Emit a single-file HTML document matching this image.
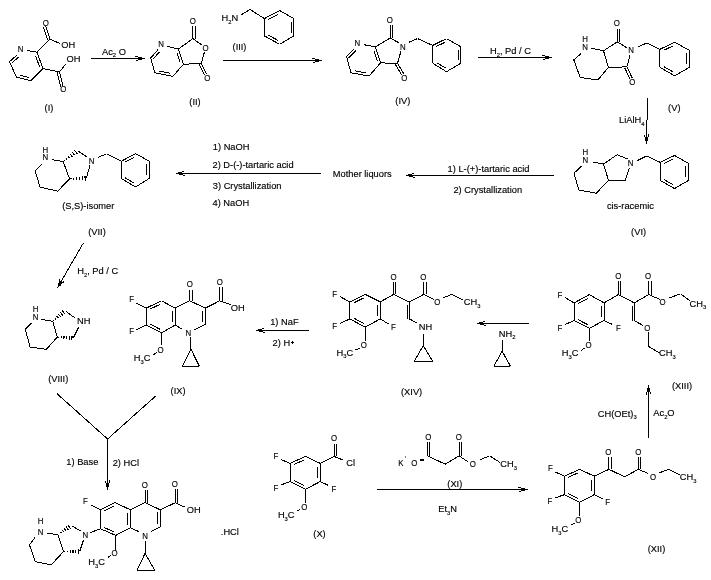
<!DOCTYPE html>
<html><head><meta charset="utf-8"><style>
html,body{margin:0;padding:0;background:#fff;}
svg{display:block;will-change:transform;}
text{font-family:"Liberation Sans",sans-serif;fill:#000;stroke:#000;stroke-width:0.15;}
line{stroke:#000;stroke-linecap:butt;shape-rendering:crispEdges;}
rect,path{fill:#000;shape-rendering:crispEdges;}

</style></head><body>
<svg width="711" height="580" viewBox="0 0 711 580">
<rect width="711" height="580" style="fill:#fff"/>
<text transform="translate(20.7 51.84) scale(0.82 1.04)" font-size="9.6" text-anchor="middle"><tspan>N</tspan></text>
<line x1="26.7" y1="50.5" x2="37" y2="52.2" stroke-width="1.0"/>
<line x1="37" y1="52.2" x2="50" y2="39.3" stroke-width="1.0"/>
<line x1="50" y1="39.3" x2="45.7" y2="26.4" stroke-width="1.0"/>
<line x1="47.72" y1="40.06" x2="43.42" y2="27.16" stroke-width="1.0"/>
<text transform="translate(45.7 25.94) scale(0.82 1.04)" font-size="9.6" text-anchor="middle"><tspan>O</tspan></text>
<line x1="50" y1="39.3" x2="60.3" y2="43.6" stroke-width="1.0"/>
<text transform="translate(61.2 48.34) scale(0.97 1.0)" font-size="9.6" text-anchor="start"><tspan>OH</tspan></text>
<line x1="37" y1="52.2" x2="43" y2="68.6" stroke-width="1.0"/>
<line x1="35.64" y1="56.05" x2="39.48" y2="66.54" stroke-width="1.0"/>
<line x1="43" y1="68.6" x2="31" y2="80.7" stroke-width="1.0"/>
<line x1="31" y1="80.7" x2="16.4" y2="77.2" stroke-width="1.0"/>
<line x1="28.98" y1="77.54" x2="19.63" y2="75.3" stroke-width="1.0"/>
<line x1="16.4" y1="77.2" x2="9.5" y2="61.7" stroke-width="1.0"/>
<line x1="9.5" y1="61.7" x2="17.2" y2="54.8" stroke-width="1.0"/>
<line x1="11.62" y1="63.29" x2="18.55" y2="57.08" stroke-width="1.0"/>
<line x1="43" y1="68.6" x2="59.5" y2="72" stroke-width="1.0"/>
<line x1="59.5" y1="72" x2="65.5" y2="64.3" stroke-width="1.0"/>
<text transform="translate(66.4 62.04) scale(0.97 1.0)" font-size="9.6" text-anchor="start"><tspan>OH</tspan></text>
<line x1="59.5" y1="72" x2="63" y2="85.9" stroke-width="1.0"/>
<line x1="57.17" y1="72.59" x2="60.67" y2="86.49" stroke-width="1.0"/>
<text transform="translate(63.4 91.84) scale(0.82 1.04)" font-size="9.6" text-anchor="middle"><tspan>O</tspan></text>
<text transform="translate(49 110.54) scale(0.97 1.0)" font-size="9.6" text-anchor="middle"><tspan>(I)</tspan></text>
<rect x="91" y="58" width="54" height="1"/>
<rect x="138" y="57" width="4" height="3"/>
<rect x="135" y="56" width="3" height="1"/>
<rect x="136" y="60" width="2" height="1"/>
<text transform="translate(102 54.74) scale(0.97 1.0)" font-size="9.6" text-anchor="start"><tspan>Ac</tspan><tspan dy="2.6" font-size="5.95">2</tspan><tspan dy="-2.6"> O</tspan></text>
<text transform="translate(161.2 47.34) scale(0.82 1.04)" font-size="9.6" text-anchor="middle"><tspan>N</tspan></text>
<line x1="167.5" y1="46.4" x2="178.5" y2="49" stroke-width="1.0"/>
<line x1="178.5" y1="49" x2="192.9" y2="38.6" stroke-width="1.0"/>
<line x1="192.9" y1="38.6" x2="192.9" y2="26.4" stroke-width="1.0"/>
<line x1="195.3" y1="38.6" x2="195.3" y2="26.4" stroke-width="1.0"/>
<text transform="translate(192.9 24.04) scale(0.82 1.04)" font-size="9.6" text-anchor="middle"><tspan>O</tspan></text>
<line x1="192.9" y1="38.6" x2="202.4" y2="45.4" stroke-width="1.0"/>
<text transform="translate(205.5 50.54) scale(0.82 1.04)" font-size="9.6" text-anchor="middle"><tspan>O</tspan></text>
<line x1="204.5" y1="51.7" x2="201.3" y2="63.3" stroke-width="1.0"/>
<line x1="201.3" y1="63.3" x2="206.6" y2="73.8" stroke-width="1.0"/>
<line x1="199.16" y1="64.38" x2="204.46" y2="74.88" stroke-width="1.0"/>
<text transform="translate(207.2 80.64) scale(0.82 1.04)" font-size="9.6" text-anchor="middle"><tspan>O</tspan></text>
<line x1="201.3" y1="63.3" x2="183.4" y2="64.3" stroke-width="1.0"/>
<line x1="183.4" y1="64.3" x2="178.5" y2="49" stroke-width="1.0"/>
<line x1="180.04" y1="62.34" x2="176.91" y2="52.55" stroke-width="1.0"/>
<line x1="183.4" y1="64.3" x2="172.8" y2="76.4" stroke-width="1.0"/>
<line x1="172.8" y1="76.4" x2="154.9" y2="72.8" stroke-width="1.0"/>
<line x1="170.09" y1="73.2" x2="158.63" y2="70.9" stroke-width="1.0"/>
<line x1="154.9" y1="72.8" x2="150.7" y2="58" stroke-width="1.0"/>
<line x1="150.7" y1="58" x2="158" y2="49.6" stroke-width="1.0"/>
<line x1="153.03" y1="59.29" x2="159.6" y2="51.73" stroke-width="1.0"/>
<text transform="translate(195 104.54) scale(0.97 1.0)" font-size="9.6" text-anchor="middle"><tspan>(II)</tspan></text>
<text transform="translate(221.6 20.94) scale(0.97 1.0)" font-size="9.6" text-anchor="start"><tspan>H</tspan><tspan dy="2.6" font-size="5.95">2</tspan><tspan dy="-2.6">N</tspan></text>
<line x1="241.2" y1="14.8" x2="250" y2="9.5" stroke-width="1.0"/>
<line x1="250" y1="9.5" x2="264.4" y2="18.6" stroke-width="1.0"/>
<line x1="264.4" y1="18.6" x2="279.6" y2="10.5" stroke-width="1.0"/>
<line x1="279.6" y1="10.5" x2="293.8" y2="18.6" stroke-width="1.0"/>
<line x1="293.8" y1="18.6" x2="293.8" y2="35.9" stroke-width="1.0"/>
<line x1="293.8" y1="35.9" x2="279.6" y2="44.3" stroke-width="1.0"/>
<line x1="279.6" y1="44.3" x2="264.4" y2="35.9" stroke-width="1.0"/>
<line x1="264.4" y1="35.9" x2="264.4" y2="18.6" stroke-width="1.0"/>
<line x1="268.36" y1="19.44" x2="278.09" y2="14.25" stroke-width="1.0"/>
<line x1="291.2" y1="21.71" x2="291.2" y2="32.79" stroke-width="1.0"/>
<line x1="278.12" y1="40.51" x2="268.39" y2="35.14" stroke-width="1.0"/>
<text transform="translate(239.5 49.84) scale(0.97 1.0)" font-size="9.6" text-anchor="middle"><tspan>(III)</tspan></text>
<rect x="223" y="60" width="99" height="1"/>
<rect x="315" y="59" width="4" height="3"/>
<rect x="312" y="58" width="3" height="1"/>
<rect x="313" y="62" width="2" height="1"/>
<text transform="translate(357.4 45.84) scale(0.82 1.04)" font-size="9.6" text-anchor="middle"><tspan>N</tspan></text>
<line x1="363.8" y1="44.7" x2="375.4" y2="46.8" stroke-width="1.0"/>
<line x1="375.4" y1="46.8" x2="390.1" y2="38" stroke-width="1.0"/>
<line x1="390.1" y1="38" x2="390.1" y2="25.3" stroke-width="1.0"/>
<line x1="392.5" y1="38" x2="392.5" y2="25.3" stroke-width="1.0"/>
<text transform="translate(389.8 23.04) scale(0.82 1.04)" font-size="9.6" text-anchor="middle"><tspan>O</tspan></text>
<line x1="390.1" y1="38" x2="399.6" y2="43.2" stroke-width="1.0"/>
<text transform="translate(402.8 49.84) scale(0.82 1.04)" font-size="9.6" text-anchor="middle"><tspan>N</tspan></text>
<line x1="401" y1="51" x2="397.5" y2="63.3" stroke-width="1.0"/>
<line x1="397.5" y1="63.3" x2="403.8" y2="73.8" stroke-width="1.0"/>
<line x1="395.44" y1="64.53" x2="401.74" y2="75.03" stroke-width="1.0"/>
<text transform="translate(404.3 80.54) scale(0.82 1.04)" font-size="9.6" text-anchor="middle"><tspan>O</tspan></text>
<line x1="397.5" y1="63.3" x2="380.6" y2="62.9" stroke-width="1.0"/>
<line x1="380.6" y1="62.9" x2="375.4" y2="46.8" stroke-width="1.0"/>
<line x1="377.19" y1="60.8" x2="373.86" y2="50.5" stroke-width="1.0"/>
<line x1="380.6" y1="62.9" x2="369" y2="76" stroke-width="1.0"/>
<line x1="369" y1="76" x2="351" y2="72.8" stroke-width="1.0"/>
<line x1="366.22" y1="72.86" x2="354.7" y2="70.82" stroke-width="1.0"/>
<line x1="351" y1="72.8" x2="346.5" y2="56.5" stroke-width="1.0"/>
<line x1="346.5" y1="56.5" x2="354.3" y2="48.5" stroke-width="1.0"/>
<line x1="348.75" y1="57.92" x2="355.77" y2="50.72" stroke-width="1.0"/>
<line x1="409" y1="42.2" x2="417.5" y2="38.6" stroke-width="1.0"/>
<line x1="417.5" y1="38.6" x2="432.7" y2="45.4" stroke-width="1.0"/>
<line x1="432.7" y1="45.4" x2="446.5" y2="38.6" stroke-width="1.0"/>
<line x1="446.5" y1="38.6" x2="460.8" y2="46.8" stroke-width="1.0"/>
<line x1="460.8" y1="46.8" x2="460.8" y2="63.3" stroke-width="1.0"/>
<line x1="460.8" y1="63.3" x2="446.5" y2="71.7" stroke-width="1.0"/>
<line x1="446.5" y1="71.7" x2="432.7" y2="63.3" stroke-width="1.0"/>
<line x1="432.7" y1="63.3" x2="432.7" y2="45.4" stroke-width="1.0"/>
<line x1="436.33" y1="46.51" x2="445.17" y2="42.16" stroke-width="1.0"/>
<line x1="458.2" y1="49.77" x2="458.2" y2="60.33" stroke-width="1.0"/>
<line x1="445.37" y1="67.97" x2="436.54" y2="62.59" stroke-width="1.0"/>
<text transform="translate(402.8 104.34) scale(0.97 1.0)" font-size="9.6" text-anchor="middle"><tspan>(IV)</tspan></text>
<rect x="478" y="57" width="74" height="1"/>
<rect x="545" y="56" width="4" height="3"/>
<rect x="542" y="55" width="3" height="1"/>
<rect x="543" y="59" width="2" height="1"/>
<text transform="translate(490 54.24) scale(0.97 1.0)" font-size="9.6" text-anchor="start"><tspan>H</tspan><tspan dy="2.6" font-size="5.95">2</tspan><tspan dy="-2.6">, Pd / C</tspan></text>
<text transform="translate(585 41.74) scale(0.82 1.04)" font-size="9.6" text-anchor="middle"><tspan>H</tspan></text>
<text transform="translate(585 49.54) scale(0.82 1.04)" font-size="9.6" text-anchor="middle"><tspan>N</tspan></text>
<line x1="591.4" y1="48.2" x2="603.5" y2="50.8" stroke-width="1.0"/>
<line x1="603.5" y1="50.8" x2="617.3" y2="41.8" stroke-width="1.0"/>
<line x1="617.3" y1="41.8" x2="617.3" y2="28.7" stroke-width="1.0"/>
<line x1="619.7" y1="41.8" x2="619.7" y2="28.7" stroke-width="1.0"/>
<text transform="translate(616.8 26.24) scale(0.82 1.04)" font-size="9.6" text-anchor="middle"><tspan>O</tspan></text>
<line x1="617.3" y1="41.8" x2="627.5" y2="48.2" stroke-width="1.0"/>
<text transform="translate(631.1 53.34) scale(0.82 1.04)" font-size="9.6" text-anchor="middle"><tspan>N</tspan></text>
<line x1="630" y1="55" x2="626.9" y2="66.9" stroke-width="1.0"/>
<line x1="626.9" y1="66.9" x2="632.2" y2="77.9" stroke-width="1.0"/>
<line x1="624.74" y1="67.94" x2="630.04" y2="78.94" stroke-width="1.0"/>
<text transform="translate(632.4 84.84) scale(0.82 1.04)" font-size="9.6" text-anchor="middle"><tspan>O</tspan></text>
<line x1="626.9" y1="66.9" x2="608.4" y2="67.3" stroke-width="1.0"/>
<line x1="608.4" y1="67.3" x2="603.5" y2="50.8" stroke-width="1.0"/>
<line x1="608.4" y1="67.3" x2="597.8" y2="80" stroke-width="1.0"/>
<line x1="597.8" y1="80" x2="580.2" y2="77.5" stroke-width="1.0"/>
<line x1="580.2" y1="77.5" x2="573.8" y2="59.9" stroke-width="1.0"/>
<line x1="573.8" y1="59.9" x2="581.2" y2="53.5" stroke-width="1.0"/>
<line x1="637.5" y1="47.2" x2="647" y2="42.9" stroke-width="1.0"/>
<line x1="647" y1="42.9" x2="659.8" y2="49.3" stroke-width="1.0"/>
<line x1="659.8" y1="49.3" x2="674.6" y2="42.3" stroke-width="1.0"/>
<line x1="674.6" y1="42.3" x2="689.5" y2="50.3" stroke-width="1.0"/>
<line x1="689.5" y1="50.3" x2="689.5" y2="67.3" stroke-width="1.0"/>
<line x1="689.5" y1="67.3" x2="674.6" y2="75.8" stroke-width="1.0"/>
<line x1="674.6" y1="75.8" x2="659.8" y2="67.3" stroke-width="1.0"/>
<line x1="659.8" y1="67.3" x2="659.8" y2="49.3" stroke-width="1.0"/>
<line x1="663.58" y1="50.39" x2="673.05" y2="45.91" stroke-width="1.0"/>
<line x1="686.9" y1="53.36" x2="686.9" y2="64.24" stroke-width="1.0"/>
<line x1="673.23" y1="72.02" x2="663.76" y2="66.58" stroke-width="1.0"/>
<text transform="translate(674.3 111.04) scale(0.97 1.0)" font-size="9.6" text-anchor="middle"><tspan>(V)</tspan></text>
<text transform="translate(619 123.04) scale(0.97 1.0)" font-size="9.6" text-anchor="start"><tspan>LiAlH</tspan><tspan dy="2.6" font-size="5.95">4</tspan></text>
<rect x="647" y="98" width="1" height="22"/>
<rect x="646" y="120" width="1" height="24"/>
<rect x="645" y="137" width="3" height="4"/>
<rect x="644" y="135" width="1" height="2"/>
<rect x="648" y="134" width="1" height="3"/>
<text transform="translate(585.3 155.24) scale(0.82 1.04)" font-size="9.6" text-anchor="middle"><tspan>H</tspan></text>
<text transform="translate(585.3 163.04) scale(0.82 1.04)" font-size="9.6" text-anchor="middle"><tspan>N</tspan></text>
<line x1="592.6" y1="161.9" x2="603.4" y2="164.1" stroke-width="1.0"/>
<line x1="603.4" y1="164.1" x2="617.2" y2="154.7" stroke-width="1.0"/>
<line x1="617.2" y1="154.7" x2="627.6" y2="159" stroke-width="1.0"/>
<text transform="translate(630.7 166.34) scale(0.82 1.04)" font-size="9.6" text-anchor="middle"><tspan>N</tspan></text>
<line x1="629.3" y1="168.4" x2="625" y2="180.5" stroke-width="1.0"/>
<line x1="625" y1="180.5" x2="608.6" y2="180.5" stroke-width="1.0"/>
<line x1="608.6" y1="180.5" x2="603.4" y2="164.1" stroke-width="1.0"/>
<line x1="608.6" y1="180.5" x2="596.2" y2="193.2" stroke-width="1.0"/>
<line x1="596.2" y1="193.2" x2="578.8" y2="190" stroke-width="1.0"/>
<line x1="578.8" y1="190" x2="574" y2="173.2" stroke-width="1.0"/>
<line x1="574" y1="173.2" x2="581.7" y2="166" stroke-width="1.0"/>
<line x1="637.1" y1="160.7" x2="646.6" y2="155.9" stroke-width="1.0"/>
<line x1="646.6" y1="155.9" x2="660.3" y2="162.4" stroke-width="1.0"/>
<line x1="660.3" y1="162.4" x2="674.5" y2="155.5" stroke-width="1.0"/>
<line x1="674.5" y1="155.5" x2="688.3" y2="163.3" stroke-width="1.0"/>
<line x1="688.3" y1="163.3" x2="688.3" y2="180.5" stroke-width="1.0"/>
<line x1="688.3" y1="180.5" x2="674.5" y2="188.6" stroke-width="1.0"/>
<line x1="674.5" y1="188.6" x2="660.3" y2="180.5" stroke-width="1.0"/>
<line x1="660.3" y1="180.5" x2="660.3" y2="162.4" stroke-width="1.0"/>
<line x1="663.99" y1="163.5" x2="673.08" y2="159.08" stroke-width="1.0"/>
<line x1="685.7" y1="166.4" x2="685.7" y2="177.4" stroke-width="1.0"/>
<line x1="673.23" y1="184.88" x2="664.14" y2="179.7" stroke-width="1.0"/>
<text transform="translate(606.9 208.94) scale(0.97 1.0)" font-size="9.6" text-anchor="start"><tspan>cis-racemic</tspan></text>
<text transform="translate(638.6 235.24) scale(0.97 1.0)" font-size="9.6" text-anchor="middle"><tspan>(VI)</tspan></text>
<rect x="406" y="175" width="148" height="1"/>
<rect x="408" y="174" width="4" height="1"/>
<rect x="409" y="176" width="4" height="1"/>
<rect x="408" y="175" width="5" height="1"/>
<rect x="412" y="173" width="2" height="1"/>
<rect x="413" y="177" width="2" height="1"/>
<text transform="translate(447.6 171.54) scale(0.97 1.0)" font-size="9.6" text-anchor="start"><tspan>1) L-(+)-tartaric acid</tspan></text>
<text transform="translate(453.4 192.84) scale(0.97 1.0)" font-size="9.6" text-anchor="start"><tspan>2) Crystallization</tspan></text>
<text transform="translate(332.8 177.24) scale(0.97 1.0)" font-size="9.6" text-anchor="start"><tspan>Mother liquors</tspan></text>
<rect x="176" y="173" width="145" height="1"/>
<rect x="178" y="172" width="4" height="1"/>
<rect x="179" y="174" width="4" height="1"/>
<rect x="178" y="173" width="5" height="1"/>
<rect x="182" y="171" width="2" height="1"/>
<rect x="183" y="175" width="2" height="1"/>
<text transform="translate(212.8 149.74) scale(0.97 1.0)" font-size="9.6" text-anchor="start"><tspan>1) NaOH</tspan></text>
<text transform="translate(212.5 167.74) scale(0.97 1.0)" font-size="9.6" text-anchor="start"><tspan>2) D-(-)-tartaric acid</tspan></text>
<text transform="translate(212.8 188.64) scale(0.97 1.0)" font-size="9.6" text-anchor="start"><tspan>3) Crystallization</tspan></text>
<text transform="translate(212.5 206.24) scale(0.97 1.0)" font-size="9.6" text-anchor="start"><tspan>4) NaOH</tspan></text>
<text transform="translate(45.3 153.04) scale(0.82 1.04)" font-size="9.6" text-anchor="middle"><tspan>H</tspan></text>
<text transform="translate(45.3 160.44) scale(0.82 1.04)" font-size="9.6" text-anchor="middle"><tspan>N</tspan></text>
<line x1="51.6" y1="159.5" x2="63.2" y2="161.6" stroke-width="1.0"/>
<line x1="64.05" y1="160.34" x2="64.65" y2="161.11" stroke-width="1.1"/>
<line x1="66.13" y1="158.29" x2="67.17" y2="159.66" stroke-width="1.1"/>
<line x1="68.2" y1="156.24" x2="69.7" y2="158.21" stroke-width="1.1"/>
<line x1="70.27" y1="154.19" x2="72.23" y2="156.76" stroke-width="1.1"/>
<line x1="72.35" y1="152.14" x2="74.75" y2="155.31" stroke-width="1.1"/>
<line x1="74.42" y1="150.09" x2="77.28" y2="153.86" stroke-width="1.1"/>
<line x1="78" y1="151.1" x2="87.5" y2="157.4" stroke-width="1.0"/>
<text transform="translate(91.7 163.64) scale(0.82 1.04)" font-size="9.6" text-anchor="middle"><tspan>N</tspan></text>
<line x1="90" y1="165" x2="86.5" y2="178.1" stroke-width="1.0"/>
<line x1="70.98" y1="178.44" x2="71.03" y2="179.41" stroke-width="1.1"/>
<line x1="73.78" y1="177.91" x2="73.87" y2="179.64" stroke-width="1.1"/>
<line x1="76.58" y1="177.39" x2="76.71" y2="179.86" stroke-width="1.1"/>
<line x1="79.37" y1="176.86" x2="79.54" y2="180.09" stroke-width="1.1"/>
<line x1="82.17" y1="176.34" x2="82.38" y2="180.31" stroke-width="1.1"/>
<line x1="84.97" y1="175.82" x2="85.22" y2="180.53" stroke-width="1.1"/>
<line x1="63.2" y1="161.6" x2="69.6" y2="179" stroke-width="1.0"/>
<line x1="69.6" y1="179" x2="57.6" y2="191.2" stroke-width="1.0"/>
<line x1="57.6" y1="191.2" x2="40" y2="187" stroke-width="1.0"/>
<line x1="40" y1="187" x2="35.2" y2="171.1" stroke-width="1.0"/>
<line x1="35.2" y1="171.1" x2="42.2" y2="163.8" stroke-width="1.0"/>
<line x1="98" y1="157.4" x2="106.5" y2="153.8" stroke-width="1.0"/>
<line x1="106.5" y1="153.8" x2="121.3" y2="161.2" stroke-width="1.0"/>
<line x1="121.3" y1="161.2" x2="135.6" y2="153.6" stroke-width="1.0"/>
<line x1="135.6" y1="153.6" x2="149.1" y2="161.2" stroke-width="1.0"/>
<line x1="149.1" y1="161.2" x2="149.1" y2="178.5" stroke-width="1.0"/>
<line x1="149.1" y1="178.5" x2="135.6" y2="187" stroke-width="1.0"/>
<line x1="135.6" y1="187" x2="121.3" y2="178.5" stroke-width="1.0"/>
<line x1="121.3" y1="178.5" x2="121.3" y2="161.2" stroke-width="1.0"/>
<line x1="125.09" y1="162.13" x2="134.25" y2="157.26" stroke-width="1.0"/>
<line x1="146.5" y1="164.31" x2="146.5" y2="175.39" stroke-width="1.0"/>
<line x1="134.35" y1="183.24" x2="125.2" y2="177.8" stroke-width="1.0"/>
<text transform="translate(62.2 208.54) scale(0.97 1.0)" font-size="9.6" text-anchor="start"><tspan>(S,S)-isomer</tspan></text>
<text transform="translate(97 235.34) scale(0.97 1.0)" font-size="9.6" text-anchor="middle"><tspan>(VII)</tspan></text>
<line x1="83.2" y1="243.3" x2="57.4" y2="287.9" stroke-width="1.0"/>
<path d="M60.29 286.1 L62.29 282.64 L59.52 281.04 L57.52 284.5Z"/>
<line x1="64.15" y1="280.83" x2="62.9" y2="282.99" stroke-width="1.2"/>
<line x1="59.67" y1="279.39" x2="58.91" y2="280.69" stroke-width="1.2"/>
<text transform="translate(77.2 274.04) scale(0.97 1.0)" font-size="9.6" text-anchor="start"><tspan>H</tspan><tspan dy="2.6" font-size="5.95">2</tspan><tspan dy="-2.6">, Pd / C</tspan></text>
<text transform="translate(35.7 312.14) scale(0.82 1.04)" font-size="9.6" text-anchor="middle"><tspan>H</tspan></text>
<text transform="translate(35.7 320.34) scale(0.82 1.04)" font-size="9.6" text-anchor="middle"><tspan>N</tspan></text>
<line x1="41.3" y1="319.4" x2="52.7" y2="321.3" stroke-width="1.0"/>
<line x1="53.37" y1="320.1" x2="54" y2="320.85" stroke-width="1.1"/>
<line x1="55.1" y1="318.16" x2="56.2" y2="319.49" stroke-width="1.1"/>
<line x1="56.82" y1="316.23" x2="58.41" y2="318.12" stroke-width="1.1"/>
<line x1="58.55" y1="314.29" x2="60.62" y2="316.76" stroke-width="1.1"/>
<line x1="60.27" y1="312.35" x2="62.83" y2="315.4" stroke-width="1.1"/>
<line x1="62" y1="310.42" x2="65.04" y2="314.03" stroke-width="1.1"/>
<line x1="66.2" y1="311.4" x2="74.6" y2="317.7" stroke-width="1.0"/>
<text transform="translate(77.1 323.74) scale(0.97 1.0)" font-size="9.6" text-anchor="start"><tspan>NH</tspan></text>
<line x1="78.8" y1="327" x2="73.3" y2="338" stroke-width="1.0"/>
<line x1="58.66" y1="336.69" x2="58.61" y2="337.66" stroke-width="1.1"/>
<line x1="61.35" y1="336.46" x2="61.25" y2="338.19" stroke-width="1.1"/>
<line x1="64.04" y1="336.24" x2="63.9" y2="338.71" stroke-width="1.1"/>
<line x1="66.72" y1="336.02" x2="66.54" y2="339.23" stroke-width="1.1"/>
<line x1="69.41" y1="335.79" x2="69.19" y2="339.76" stroke-width="1.1"/>
<line x1="72.1" y1="335.57" x2="71.83" y2="340.28" stroke-width="1.1"/>
<line x1="52.7" y1="321.3" x2="57.3" y2="337.1" stroke-width="1.0"/>
<line x1="57.3" y1="337.1" x2="46.3" y2="349.4" stroke-width="1.0"/>
<line x1="46.3" y1="349.4" x2="30.1" y2="347" stroke-width="1.0"/>
<line x1="30.1" y1="347" x2="25.3" y2="329.4" stroke-width="1.0"/>
<line x1="25.3" y1="329.4" x2="31.4" y2="322.9" stroke-width="1.0"/>
<text transform="translate(58.2 382.04) scale(0.97 1.0)" font-size="9.6" text-anchor="middle"><tspan>(VIII)</tspan></text>
<line x1="57" y1="393.7" x2="107.6" y2="439" stroke-width="1.0"/>
<line x1="107.6" y1="439" x2="155.7" y2="396" stroke-width="1.0"/>
<rect x="107" y="439" width="1" height="51"/>
<rect x="106" y="483" width="3" height="4"/>
<rect x="105" y="481" width="1" height="2"/>
<rect x="109" y="480" width="1" height="3"/>
<text transform="translate(66.3 464.84) scale(0.97 1.0)" font-size="9.6" text-anchor="start"><tspan>1) Base</tspan></text>
<text transform="translate(112.7 466.34) scale(0.97 1.0)" font-size="9.6" text-anchor="start"><tspan>2) HCl</tspan></text>
<text transform="translate(131.7 302.14) scale(0.82 1.04)" font-size="9.6" text-anchor="middle"><tspan>F</tspan></text>
<line x1="136.6" y1="303.2" x2="146.2" y2="308.1" stroke-width="1.0"/>
<line x1="146.2" y1="308.1" x2="161.4" y2="300.8" stroke-width="1.0"/>
<line x1="161.4" y1="300.8" x2="175.2" y2="308.1" stroke-width="1.0"/>
<line x1="175.2" y1="308.1" x2="175.2" y2="325" stroke-width="1.0"/>
<line x1="175.2" y1="325" x2="161.4" y2="332.9" stroke-width="1.0"/>
<line x1="161.4" y1="332.9" x2="146.2" y2="325" stroke-width="1.0"/>
<line x1="146.2" y1="325" x2="146.2" y2="308.1" stroke-width="1.0"/>
<line x1="150.06" y1="309.13" x2="159.79" y2="304.46" stroke-width="1.0"/>
<line x1="172.6" y1="311.14" x2="172.6" y2="321.96" stroke-width="1.0"/>
<line x1="159.86" y1="329.17" x2="150.14" y2="324.11" stroke-width="1.0"/>
<line x1="175.2" y1="308.1" x2="189.7" y2="300.8" stroke-width="1.0"/>
<line x1="189.7" y1="300.8" x2="189.7" y2="289.5" stroke-width="1.0"/>
<line x1="192.1" y1="300.8" x2="192.1" y2="289.5" stroke-width="1.0"/>
<text transform="translate(189.7 286.54) scale(0.82 1.04)" font-size="9.6" text-anchor="middle"><tspan>O</tspan></text>
<line x1="189.7" y1="300.8" x2="205.3" y2="308.1" stroke-width="1.0"/>
<line x1="205.3" y1="308.1" x2="205.3" y2="324.5" stroke-width="1.0"/>
<line x1="202.9" y1="310.56" x2="202.9" y2="322.04" stroke-width="1.0"/>
<line x1="205.3" y1="324.5" x2="194.5" y2="329.8" stroke-width="1.0"/>
<text transform="translate(188.4 335.94) scale(0.82 1.04)" font-size="9.6" text-anchor="middle"><tspan>N</tspan></text>
<line x1="182.4" y1="329.3" x2="175.2" y2="325" stroke-width="1.0"/>
<line x1="146.2" y1="325" x2="136.6" y2="329.8" stroke-width="1.0"/>
<text transform="translate(131.7 334.24) scale(0.82 1.04)" font-size="9.6" text-anchor="middle"><tspan>F</tspan></text>
<line x1="161.4" y1="332.9" x2="161.4" y2="345" stroke-width="1.0"/>
<text transform="translate(160.6 352.84) scale(0.82 1.04)" font-size="9.6" text-anchor="middle"><tspan>O</tspan></text>
<line x1="157" y1="352.5" x2="153.4" y2="354.7" stroke-width="1.0"/>
<text transform="translate(133.7 361.34) scale(0.97 1.0)" font-size="9.6" text-anchor="start"><tspan>H</tspan><tspan dy="2.6" font-size="5.95">3</tspan><tspan dy="-2.6">C</tspan></text>
<line x1="190.9" y1="336.5" x2="190.9" y2="349.1" stroke-width="1.0"/>
<line x1="190.9" y1="349.1" x2="182.4" y2="366" stroke-width="1.0"/>
<line x1="182.4" y1="366" x2="199.3" y2="366" stroke-width="1.0"/>
<line x1="199.3" y1="366" x2="190.9" y2="349.1" stroke-width="1.0"/>
<line x1="205.3" y1="308.1" x2="219.8" y2="300.8" stroke-width="1.0"/>
<line x1="219.8" y1="300.8" x2="219.8" y2="287.1" stroke-width="1.0"/>
<line x1="222.2" y1="300.8" x2="222.2" y2="287.1" stroke-width="1.0"/>
<text transform="translate(219.8 285.24) scale(0.82 1.04)" font-size="9.6" text-anchor="middle"><tspan>O</tspan></text>
<line x1="219.8" y1="300.8" x2="230.7" y2="304.7" stroke-width="1.0"/>
<text transform="translate(230.7 310.64) scale(0.97 1.0)" font-size="9.6" text-anchor="start"><tspan>OH</tspan></text>
<text transform="translate(178.1 393.84) scale(0.97 1.0)" font-size="9.6" text-anchor="middle"><tspan>(IX)</tspan></text>
<rect x="256" y="330" width="53" height="1"/>
<rect x="258" y="329" width="4" height="1"/>
<rect x="259" y="331" width="4" height="1"/>
<rect x="258" y="330" width="5" height="1"/>
<rect x="262" y="328" width="2" height="1"/>
<rect x="263" y="332" width="2" height="1"/>
<text transform="translate(270.2 324.84) scale(0.97 1.0)" font-size="9.6" text-anchor="start"><tspan>1) NaF</tspan></text>
<text transform="translate(272.6 345.94) scale(0.97 1.0)" font-size="9.6" text-anchor="start"><tspan>2) H</tspan></text>
<line x1="291" y1="342.5" x2="294" y2="342.5" stroke-width="1.0"/>
<line x1="292.5" y1="341" x2="292.5" y2="344" stroke-width="1.0"/>
<line x1="349.9" y1="301.9" x2="365.1" y2="294.3" stroke-width="1.0"/>
<line x1="365.1" y1="294.3" x2="380.3" y2="301.9" stroke-width="1.0"/>
<line x1="380.3" y1="301.9" x2="380.3" y2="318.9" stroke-width="1.0"/>
<line x1="380.3" y1="318.9" x2="365.1" y2="327.2" stroke-width="1.0"/>
<line x1="365.1" y1="327.2" x2="349.9" y2="318.9" stroke-width="1.0"/>
<line x1="349.9" y1="318.9" x2="349.9" y2="301.9" stroke-width="1.0"/>
<line x1="353.8" y1="302.86" x2="363.53" y2="297.99" stroke-width="1.0"/>
<line x1="377.7" y1="304.96" x2="377.7" y2="315.84" stroke-width="1.0"/>
<line x1="363.61" y1="323.42" x2="353.88" y2="318.11" stroke-width="1.0"/>
<text transform="translate(334.7 296.54) scale(0.82 1.04)" font-size="9.6" text-anchor="middle"><tspan>F</tspan></text>
<line x1="340.3" y1="296.8" x2="349.9" y2="301.9" stroke-width="1.0"/>
<text transform="translate(334.7 329.04) scale(0.82 1.04)" font-size="9.6" text-anchor="middle"><tspan>F</tspan></text>
<line x1="340.3" y1="323.4" x2="349.9" y2="318.9" stroke-width="1.0"/>
<text transform="translate(393.4 330.24) scale(0.82 1.04)" font-size="9.6" text-anchor="middle"><tspan>F</tspan></text>
<line x1="388.4" y1="323.9" x2="380.3" y2="318.9" stroke-width="1.0"/>
<line x1="365.1" y1="327.2" x2="365.1" y2="341.1" stroke-width="1.0"/>
<text transform="translate(363.7 348.04) scale(0.82 1.04)" font-size="9.6" text-anchor="middle"><tspan>O</tspan></text>
<line x1="360" y1="348" x2="355.4" y2="350" stroke-width="1.0"/>
<text transform="translate(336.5 355.54) scale(0.97 1.0)" font-size="9.6" text-anchor="start"><tspan>H</tspan><tspan dy="2.6" font-size="5.95">3</tspan><tspan dy="-2.6">C</tspan></text>
<line x1="380.3" y1="301.9" x2="393.6" y2="294.4" stroke-width="1.0"/>
<line x1="393.6" y1="294.4" x2="393.6" y2="282.3" stroke-width="1.0"/>
<line x1="395.9" y1="294.4" x2="395.9" y2="282.3" stroke-width="1.0"/>
<text transform="translate(393.6 279.64) scale(0.82 1.04)" font-size="9.6" text-anchor="middle"><tspan>O</tspan></text>
<line x1="393.6" y1="294.4" x2="409.4" y2="302" stroke-width="1.0"/>
<line x1="409.4" y1="302" x2="423.7" y2="294.4" stroke-width="1.0"/>
<line x1="423.7" y1="294.4" x2="423.7" y2="282.3" stroke-width="1.0"/>
<line x1="426" y1="294.4" x2="426" y2="282.3" stroke-width="1.0"/>
<text transform="translate(423.3 279.64) scale(0.82 1.04)" font-size="9.6" text-anchor="middle"><tspan>O</tspan></text>
<line x1="423.7" y1="294.4" x2="433.9" y2="299.4" stroke-width="1.0"/>
<text transform="translate(437.2 304.94) scale(0.82 1.04)" font-size="9.6" text-anchor="middle"><tspan>O</tspan></text>
<line x1="442.8" y1="298.1" x2="451.6" y2="294.3" stroke-width="1.0"/>
<line x1="451.6" y1="294.3" x2="463" y2="300.1" stroke-width="1.0"/>
<text transform="translate(463.8 304.94) scale(0.97 1.0)" font-size="9.6" text-anchor="start"><tspan>CH</tspan><tspan dy="2.6" font-size="5.95">3</tspan></text>
<line x1="409.4" y1="302" x2="409.4" y2="318.9" stroke-width="1.0"/>
<line x1="407.1" y1="304.53" x2="407.1" y2="318.9" stroke-width="1.0"/>
<line x1="409.4" y1="318.9" x2="417.5" y2="323.4" stroke-width="1.0"/>
<text transform="translate(418.7 330.24) scale(0.97 1.0)" font-size="9.6" text-anchor="start"><tspan>NH</tspan></text>
<line x1="423.3" y1="333.5" x2="423.3" y2="345.7" stroke-width="1.0"/>
<line x1="423.3" y1="345.7" x2="414.2" y2="361.4" stroke-width="1.0"/>
<line x1="414.2" y1="361.4" x2="432.7" y2="361.4" stroke-width="1.0"/>
<line x1="432.7" y1="361.4" x2="423.3" y2="345.7" stroke-width="1.0"/>
<text transform="translate(411.6 394.64) scale(0.97 1.0)" font-size="9.6" text-anchor="middle"><tspan>(XIV)</tspan></text>
<rect x="477" y="323" width="52" height="1"/>
<rect x="479" y="322" width="4" height="1"/>
<rect x="480" y="324" width="4" height="1"/>
<rect x="479" y="323" width="5" height="1"/>
<rect x="483" y="321" width="2" height="1"/>
<rect x="484" y="325" width="2" height="1"/>
<text transform="translate(498.7 336.84) scale(0.97 1.0)" font-size="9.6" text-anchor="start"><tspan>NH</tspan><tspan dy="2.6" font-size="5.95">2</tspan></text>
<line x1="502.2" y1="340.1" x2="502.2" y2="351.3" stroke-width="1.0"/>
<line x1="502.2" y1="351.3" x2="493.8" y2="366.1" stroke-width="1.0"/>
<line x1="493.8" y1="366.1" x2="510.4" y2="366.1" stroke-width="1.0"/>
<line x1="510.4" y1="366.1" x2="502.2" y2="351.3" stroke-width="1.0"/>
<line x1="574.1" y1="302.9" x2="589.3" y2="294.6" stroke-width="1.0"/>
<line x1="589.3" y1="294.6" x2="604" y2="302.9" stroke-width="1.0"/>
<line x1="604" y1="302.9" x2="604" y2="320.6" stroke-width="1.0"/>
<line x1="604" y1="320.6" x2="589.3" y2="328.3" stroke-width="1.0"/>
<line x1="589.3" y1="328.3" x2="574.1" y2="320.6" stroke-width="1.0"/>
<line x1="574.1" y1="320.6" x2="574.1" y2="302.9" stroke-width="1.0"/>
<line x1="578.08" y1="303.69" x2="587.81" y2="298.38" stroke-width="1.0"/>
<line x1="601.4" y1="306.09" x2="601.4" y2="317.41" stroke-width="1.0"/>
<line x1="587.74" y1="324.59" x2="578.01" y2="319.67" stroke-width="1.0"/>
<text transform="translate(559.8 297.64) scale(0.82 1.04)" font-size="9.6" text-anchor="middle"><tspan>F</tspan></text>
<line x1="565" y1="297.5" x2="574.1" y2="302.9" stroke-width="1.0"/>
<text transform="translate(559.8 330.74) scale(0.82 1.04)" font-size="9.6" text-anchor="middle"><tspan>F</tspan></text>
<line x1="565" y1="324.5" x2="574.1" y2="320.6" stroke-width="1.0"/>
<text transform="translate(618.3 330.74) scale(0.82 1.04)" font-size="9.6" text-anchor="middle"><tspan>F</tspan></text>
<line x1="612.5" y1="324.5" x2="604" y2="320.6" stroke-width="1.0"/>
<line x1="589.3" y1="328.3" x2="589.3" y2="340.7" stroke-width="1.0"/>
<text transform="translate(588.5 347.94) scale(0.82 1.04)" font-size="9.6" text-anchor="middle"><tspan>O</tspan></text>
<line x1="585" y1="348" x2="581" y2="350.4" stroke-width="1.0"/>
<text transform="translate(561.7 356.14) scale(0.97 1.0)" font-size="9.6" text-anchor="start"><tspan>H</tspan><tspan dy="2.6" font-size="5.95">3</tspan><tspan dy="-2.6">C</tspan></text>
<line x1="604" y1="302.9" x2="618.3" y2="294.6" stroke-width="1.0"/>
<line x1="618.3" y1="294.6" x2="618.3" y2="280.8" stroke-width="1.0"/>
<line x1="620.6" y1="294.6" x2="620.6" y2="280.8" stroke-width="1.0"/>
<text transform="translate(618.3 278.94) scale(0.82 1.04)" font-size="9.6" text-anchor="middle"><tspan>O</tspan></text>
<line x1="618.3" y1="294.6" x2="634.3" y2="302.9" stroke-width="1.0"/>
<line x1="634.3" y1="302.9" x2="648.7" y2="294.6" stroke-width="1.0"/>
<line x1="648.7" y1="294.6" x2="648.7" y2="280.8" stroke-width="1.0"/>
<line x1="651" y1="294.6" x2="651" y2="280.8" stroke-width="1.0"/>
<text transform="translate(648.1 278.94) scale(0.82 1.04)" font-size="9.6" text-anchor="middle"><tspan>O</tspan></text>
<line x1="648.7" y1="294.6" x2="659.7" y2="299.3" stroke-width="1.0"/>
<text transform="translate(662.5 305.14) scale(0.82 1.04)" font-size="9.6" text-anchor="middle"><tspan>O</tspan></text>
<line x1="669.3" y1="298" x2="680.4" y2="293.8" stroke-width="1.0"/>
<line x1="680.4" y1="293.8" x2="690" y2="300.7" stroke-width="1.0"/>
<text transform="translate(689.5 306.54) scale(0.97 1.0)" font-size="9.6" text-anchor="start"><tspan>CH</tspan><tspan dy="2.6" font-size="5.95">3</tspan></text>
<line x1="634.3" y1="302.9" x2="634.3" y2="320.6" stroke-width="1.0"/>
<line x1="632" y1="305.56" x2="632" y2="320.6" stroke-width="1.0"/>
<line x1="634.3" y1="320.6" x2="643.1" y2="325.5" stroke-width="1.0"/>
<text transform="translate(647.3 330.74) scale(0.82 1.04)" font-size="9.6" text-anchor="middle"><tspan>O</tspan></text>
<line x1="648.1" y1="332.4" x2="648.1" y2="346.2" stroke-width="1.0"/>
<line x1="648.1" y1="346.2" x2="659.7" y2="353.1" stroke-width="1.0"/>
<text transform="translate(659.1 356.14) scale(0.97 1.0)" font-size="9.6" text-anchor="start"><tspan>CH</tspan><tspan dy="2.6" font-size="5.95">3</tspan></text>
<text transform="translate(682 389.34) scale(0.97 1.0)" font-size="9.6" text-anchor="middle"><tspan>(XIII)</tspan></text>
<rect x="648" y="385" width="1" height="53"/>
<rect x="647" y="388" width="3" height="4"/>
<rect x="646" y="392" width="1" height="3"/>
<rect x="650" y="392" width="1" height="2"/>
<text transform="translate(597.8 416.64) scale(0.97 1.0)" font-size="9.6" text-anchor="start"><tspan>CH(OEt)</tspan><tspan dy="2.6" font-size="5.95">3</tspan></text>
<text transform="translate(653.3 416.04) scale(0.97 1.0)" font-size="9.6" text-anchor="start"><tspan>Ac</tspan><tspan dy="2.6" font-size="5.95">2</tspan><tspan dy="-2.6">O</tspan></text>
<line x1="564.4" y1="476.2" x2="579.6" y2="469.3" stroke-width="1.0"/>
<line x1="579.6" y1="469.3" x2="594.2" y2="476.2" stroke-width="1.0"/>
<line x1="594.2" y1="476.2" x2="594.2" y2="494.7" stroke-width="1.0"/>
<line x1="594.2" y1="494.7" x2="579.6" y2="502.4" stroke-width="1.0"/>
<line x1="579.6" y1="502.4" x2="564.4" y2="494.7" stroke-width="1.0"/>
<line x1="564.4" y1="494.7" x2="564.4" y2="476.2" stroke-width="1.0"/>
<line x1="568.21" y1="477.33" x2="577.94" y2="472.91" stroke-width="1.0"/>
<line x1="591.6" y1="479.53" x2="591.6" y2="491.37" stroke-width="1.0"/>
<line x1="578.04" y1="498.69" x2="568.31" y2="493.77" stroke-width="1.0"/>
<text transform="translate(550.4 471.04) scale(0.82 1.04)" font-size="9.6" text-anchor="middle"><tspan>F</tspan></text>
<line x1="554.8" y1="471.8" x2="564.4" y2="476.2" stroke-width="1.0"/>
<text transform="translate(549.9 504.14) scale(0.82 1.04)" font-size="9.6" text-anchor="middle"><tspan>F</tspan></text>
<line x1="554.8" y1="498" x2="564.4" y2="494.7" stroke-width="1.0"/>
<text transform="translate(607.6 504.94) scale(0.82 1.04)" font-size="9.6" text-anchor="middle"><tspan>F</tspan></text>
<line x1="602.6" y1="498.6" x2="594.2" y2="494.7" stroke-width="1.0"/>
<line x1="579.6" y1="502.4" x2="579.6" y2="516.4" stroke-width="1.0"/>
<text transform="translate(578.4 523.24) scale(0.82 1.04)" font-size="9.6" text-anchor="middle"><tspan>O</tspan></text>
<line x1="575" y1="523" x2="570.7" y2="525.3" stroke-width="1.0"/>
<text transform="translate(551.6 532.14) scale(0.97 1.0)" font-size="9.6" text-anchor="start"><tspan>H</tspan><tspan dy="2.6" font-size="5.95">3</tspan><tspan dy="-2.6">C</tspan></text>
<line x1="594.2" y1="476.2" x2="608.9" y2="469.3" stroke-width="1.0"/>
<line x1="608.9" y1="469.3" x2="608.9" y2="456.5" stroke-width="1.0"/>
<line x1="611.2" y1="469.3" x2="611.2" y2="456.5" stroke-width="1.0"/>
<text transform="translate(608.4 454.54) scale(0.82 1.04)" font-size="9.6" text-anchor="middle"><tspan>O</tspan></text>
<line x1="608.9" y1="469.3" x2="624.7" y2="476.9" stroke-width="1.0"/>
<line x1="624.7" y1="476.9" x2="638.2" y2="469.3" stroke-width="1.0"/>
<line x1="638.2" y1="469.3" x2="638.2" y2="456.5" stroke-width="1.0"/>
<line x1="640.5" y1="469.3" x2="640.5" y2="456.5" stroke-width="1.0"/>
<text transform="translate(638.2 454.54) scale(0.82 1.04)" font-size="9.6" text-anchor="middle"><tspan>O</tspan></text>
<line x1="638.2" y1="469.3" x2="648.4" y2="473.6" stroke-width="1.0"/>
<text transform="translate(653 479.94) scale(0.82 1.04)" font-size="9.6" text-anchor="middle"><tspan>O</tspan></text>
<line x1="658.6" y1="473.1" x2="668.7" y2="469.3" stroke-width="1.0"/>
<line x1="668.7" y1="469.3" x2="680.2" y2="475.1" stroke-width="1.0"/>
<text transform="translate(679.7 479.94) scale(0.97 1.0)" font-size="9.6" text-anchor="start"><tspan>CH</tspan><tspan dy="2.6" font-size="5.95">3</tspan></text>
<text transform="translate(656.5 552.04) scale(0.97 1.0)" font-size="9.6" text-anchor="middle"><tspan>(XII)</tspan></text>
<line x1="290.1" y1="463.4" x2="305.6" y2="456.4" stroke-width="1.0"/>
<line x1="305.6" y1="456.4" x2="320.3" y2="463.4" stroke-width="1.0"/>
<line x1="320.3" y1="463.4" x2="320.3" y2="481.5" stroke-width="1.0"/>
<line x1="320.3" y1="481.5" x2="305.6" y2="489.2" stroke-width="1.0"/>
<line x1="305.6" y1="489.2" x2="290.1" y2="481.5" stroke-width="1.0"/>
<line x1="290.1" y1="481.5" x2="290.1" y2="463.4" stroke-width="1.0"/>
<line x1="293.96" y1="464.51" x2="303.88" y2="460.03" stroke-width="1.0"/>
<line x1="317.7" y1="466.66" x2="317.7" y2="478.24" stroke-width="1.0"/>
<line x1="303.97" y1="485.49" x2="294.05" y2="480.56" stroke-width="1.0"/>
<text transform="translate(275.9 458.64) scale(0.82 1.04)" font-size="9.6" text-anchor="middle"><tspan>F</tspan></text>
<line x1="281" y1="459.5" x2="290.1" y2="463.4" stroke-width="1.0"/>
<text transform="translate(275.9 491.44) scale(0.82 1.04)" font-size="9.6" text-anchor="middle"><tspan>F</tspan></text>
<line x1="281" y1="485" x2="290.1" y2="481.5" stroke-width="1.0"/>
<text transform="translate(334 492.24) scale(0.82 1.04)" font-size="9.6" text-anchor="middle"><tspan>F</tspan></text>
<line x1="328.5" y1="485.5" x2="320.3" y2="481.5" stroke-width="1.0"/>
<line x1="305.6" y1="489.2" x2="305.6" y2="503.4" stroke-width="1.0"/>
<text transform="translate(304.3 509.54) scale(0.82 1.04)" font-size="9.6" text-anchor="middle"><tspan>O</tspan></text>
<line x1="300.5" y1="509.5" x2="296.5" y2="511.2" stroke-width="1.0"/>
<text transform="translate(277.9 518.14) scale(0.97 1.0)" font-size="9.6" text-anchor="start"><tspan>H</tspan><tspan dy="2.6" font-size="5.95">3</tspan><tspan dy="-2.6">C</tspan></text>
<line x1="320.3" y1="463.4" x2="334" y2="456.4" stroke-width="1.0"/>
<line x1="334" y1="456.4" x2="334" y2="444" stroke-width="1.0"/>
<line x1="336.3" y1="456.4" x2="336.3" y2="444" stroke-width="1.0"/>
<text transform="translate(334 441.34) scale(0.82 1.04)" font-size="9.6" text-anchor="middle"><tspan>O</tspan></text>
<line x1="334" y1="456.4" x2="343.1" y2="460" stroke-width="1.0"/>
<text transform="translate(346.2 466.44) scale(0.97 1.0)" font-size="9.6" text-anchor="start"><tspan>Cl</tspan></text>
<text transform="translate(319.5 537.04) scale(0.97 1.0)" font-size="9.6" text-anchor="middle"><tspan>(X)</tspan></text>
<rect x="377" y="489" width="151" height="1"/>
<rect x="521" y="488" width="4" height="3"/>
<rect x="518" y="487" width="3" height="1"/>
<rect x="519" y="491" width="2" height="1"/>
<text transform="translate(454.8 487.14) scale(0.97 1.0)" font-size="9.6" text-anchor="middle"><tspan>(XI)</tspan></text>
<text transform="translate(438.2 512.04) scale(0.97 1.0)" font-size="9.6" text-anchor="start"><tspan>Et</tspan><tspan dy="2.6" font-size="5.95">3</tspan><tspan dy="-2.6">N</tspan></text>
<text transform="translate(398.2 465.64) scale(0.82 1.04)" font-size="9.6" text-anchor="start"><tspan>K</tspan></text>
<rect x="405" y="456" width="1" height="2" style="fill:#777"/>
<text transform="translate(414.4 466.44) scale(0.82 1.04)" font-size="9.6" text-anchor="middle"><tspan>O</tspan></text>
<rect x="420" y="459" width="4" height="2"/>
<line x1="427.4" y1="455.9" x2="427.4" y2="441.5" stroke-width="1.0"/>
<line x1="429.7" y1="455.9" x2="429.7" y2="441.5" stroke-width="1.0"/>
<text transform="translate(428.2 440.24) scale(0.82 1.04)" font-size="9.6" text-anchor="middle"><tspan>O</tspan></text>
<line x1="427.4" y1="455.9" x2="445.3" y2="464.2" stroke-width="1.0"/>
<line x1="445.3" y1="464.2" x2="459" y2="455.9" stroke-width="1.0"/>
<line x1="459" y1="455.9" x2="459" y2="441.5" stroke-width="1.0"/>
<line x1="461.3" y1="455.9" x2="461.3" y2="441.5" stroke-width="1.0"/>
<text transform="translate(458.8 440.24) scale(0.82 1.04)" font-size="9.6" text-anchor="middle"><tspan>O</tspan></text>
<line x1="459" y1="455.9" x2="468" y2="461.8" stroke-width="1.0"/>
<text transform="translate(472.8 466.54) scale(0.82 1.04)" font-size="9.6" text-anchor="middle"><tspan>O</tspan></text>
<line x1="480.5" y1="459.5" x2="489.6" y2="455.9" stroke-width="1.0"/>
<line x1="489.6" y1="455.9" x2="500.3" y2="462.6" stroke-width="1.0"/>
<text transform="translate(500.3 467.24) scale(0.97 1.0)" font-size="9.6" text-anchor="start"><tspan>CH</tspan><tspan dy="2.6" font-size="5.95">3</tspan></text>
<text transform="translate(40.5 523.84) scale(0.82 1.04)" font-size="9.6" text-anchor="middle"><tspan>H</tspan></text>
<text transform="translate(40.5 534.64) scale(0.82 1.04)" font-size="9.6" text-anchor="middle"><tspan>N</tspan></text>
<line x1="46.5" y1="533" x2="57.9" y2="534.8" stroke-width="1.0"/>
<line x1="58.64" y1="533.66" x2="59.21" y2="534.45" stroke-width="1.1"/>
<line x1="60.47" y1="531.88" x2="61.48" y2="533.27" stroke-width="1.1"/>
<line x1="62.3" y1="530.09" x2="63.75" y2="532.09" stroke-width="1.1"/>
<line x1="64.13" y1="528.3" x2="66.02" y2="530.91" stroke-width="1.1"/>
<line x1="65.96" y1="526.51" x2="68.29" y2="529.74" stroke-width="1.1"/>
<line x1="67.79" y1="524.73" x2="70.56" y2="528.56" stroke-width="1.1"/>
<line x1="72" y1="525.9" x2="80.7" y2="531" stroke-width="1.0"/>
<text transform="translate(85.4 537.54) scale(0.82 1.04)" font-size="9.6" text-anchor="middle"><tspan>N</tspan></text>
<line x1="83.5" y1="540" x2="79.7" y2="551.5" stroke-width="1.0"/>
<line x1="64.94" y1="551.01" x2="64.94" y2="551.99" stroke-width="1.1"/>
<line x1="67.62" y1="550.64" x2="67.62" y2="552.36" stroke-width="1.1"/>
<line x1="70.31" y1="550.26" x2="70.31" y2="552.74" stroke-width="1.1"/>
<line x1="72.99" y1="549.89" x2="72.99" y2="553.11" stroke-width="1.1"/>
<line x1="75.67" y1="549.51" x2="75.67" y2="553.49" stroke-width="1.1"/>
<line x1="78.36" y1="549.14" x2="78.36" y2="553.86" stroke-width="1.1"/>
<line x1="57.9" y1="534.8" x2="63.6" y2="551.5" stroke-width="1.0"/>
<line x1="63.6" y1="551.5" x2="51.3" y2="564.8" stroke-width="1.0"/>
<line x1="51.3" y1="564.8" x2="35.2" y2="561.6" stroke-width="1.0"/>
<line x1="35.2" y1="561.6" x2="29.5" y2="544.9" stroke-width="1.0"/>
<line x1="29.5" y1="544.9" x2="35.2" y2="537.3" stroke-width="1.0"/>
<line x1="90.1" y1="532.6" x2="100.6" y2="528.8" stroke-width="1.0"/>
<line x1="100.6" y1="509.8" x2="115.2" y2="502.6" stroke-width="1.0"/>
<line x1="115.2" y1="502.6" x2="130.3" y2="509.8" stroke-width="1.0"/>
<line x1="130.3" y1="509.8" x2="130.3" y2="527.8" stroke-width="1.0"/>
<line x1="130.3" y1="527.8" x2="115.7" y2="535.4" stroke-width="1.0"/>
<line x1="115.7" y1="535.4" x2="100.6" y2="528.8" stroke-width="1.0"/>
<line x1="100.6" y1="528.8" x2="100.6" y2="509.8" stroke-width="1.0"/>
<line x1="104.38" y1="510.84" x2="113.72" y2="506.23" stroke-width="1.0"/>
<line x1="127.7" y1="513.04" x2="127.7" y2="524.56" stroke-width="1.0"/>
<line x1="114.02" y1="531.83" x2="104.36" y2="527.61" stroke-width="1.0"/>
<line x1="100.6" y1="509.8" x2="91.1" y2="505.1" stroke-width="1.0"/>
<text transform="translate(85.4 504.34) scale(0.82 1.04)" font-size="9.6" text-anchor="middle"><tspan>F</tspan></text>
<line x1="115.7" y1="535.4" x2="115.7" y2="549.6" stroke-width="1.0"/>
<text transform="translate(114.6 555.54) scale(0.82 1.04)" font-size="9.6" text-anchor="middle"><tspan>O</tspan></text>
<line x1="111" y1="555.5" x2="108.2" y2="557.2" stroke-width="1.0"/>
<text transform="translate(88.2 565.04) scale(0.97 1.0)" font-size="9.6" text-anchor="start"><tspan>H</tspan><tspan dy="2.6" font-size="5.95">3</tspan><tspan dy="-2.6">C</tspan></text>
<line x1="130.3" y1="509.8" x2="145.1" y2="502.6" stroke-width="1.0"/>
<line x1="145.1" y1="502.6" x2="145.1" y2="489.9" stroke-width="1.0"/>
<line x1="147.5" y1="502.6" x2="147.5" y2="489.9" stroke-width="1.0"/>
<text transform="translate(144.8 487.84) scale(0.82 1.04)" font-size="9.6" text-anchor="middle"><tspan>O</tspan></text>
<line x1="145.1" y1="502.6" x2="160.3" y2="509.8" stroke-width="1.0"/>
<line x1="160.3" y1="509.8" x2="160.3" y2="526.9" stroke-width="1.0"/>
<line x1="157.9" y1="512.37" x2="157.9" y2="524.34" stroke-width="1.0"/>
<line x1="160.3" y1="526.9" x2="150.8" y2="531.6" stroke-width="1.0"/>
<text transform="translate(145.1 539.04) scale(0.82 1.04)" font-size="9.6" text-anchor="middle"><tspan>N</tspan></text>
<line x1="138.9" y1="531.6" x2="130.3" y2="527.8" stroke-width="1.0"/>
<line x1="145.1" y1="541" x2="145.1" y2="553.4" stroke-width="1.0"/>
<line x1="145.1" y1="553.4" x2="137" y2="570.1" stroke-width="1.0"/>
<line x1="137" y1="570.1" x2="154.6" y2="570.1" stroke-width="1.0"/>
<line x1="154.6" y1="570.1" x2="145.1" y2="553.4" stroke-width="1.0"/>
<line x1="160.3" y1="509.8" x2="175.5" y2="502.6" stroke-width="1.0"/>
<line x1="175.5" y1="502.6" x2="175.5" y2="489" stroke-width="1.0"/>
<line x1="177.9" y1="502.6" x2="177.9" y2="489" stroke-width="1.0"/>
<text transform="translate(174.8 487.24) scale(0.82 1.04)" font-size="9.6" text-anchor="middle"><tspan>O</tspan></text>
<line x1="175.5" y1="502.6" x2="184.4" y2="507" stroke-width="1.0"/>
<text transform="translate(186.8 512.84) scale(0.97 1.0)" font-size="9.6" text-anchor="start"><tspan>OH</tspan></text>
<text transform="translate(220.8 535.14) scale(0.97 1.0)" font-size="9.6" text-anchor="start"><tspan>.HCl</tspan></text>
</svg></body></html>
